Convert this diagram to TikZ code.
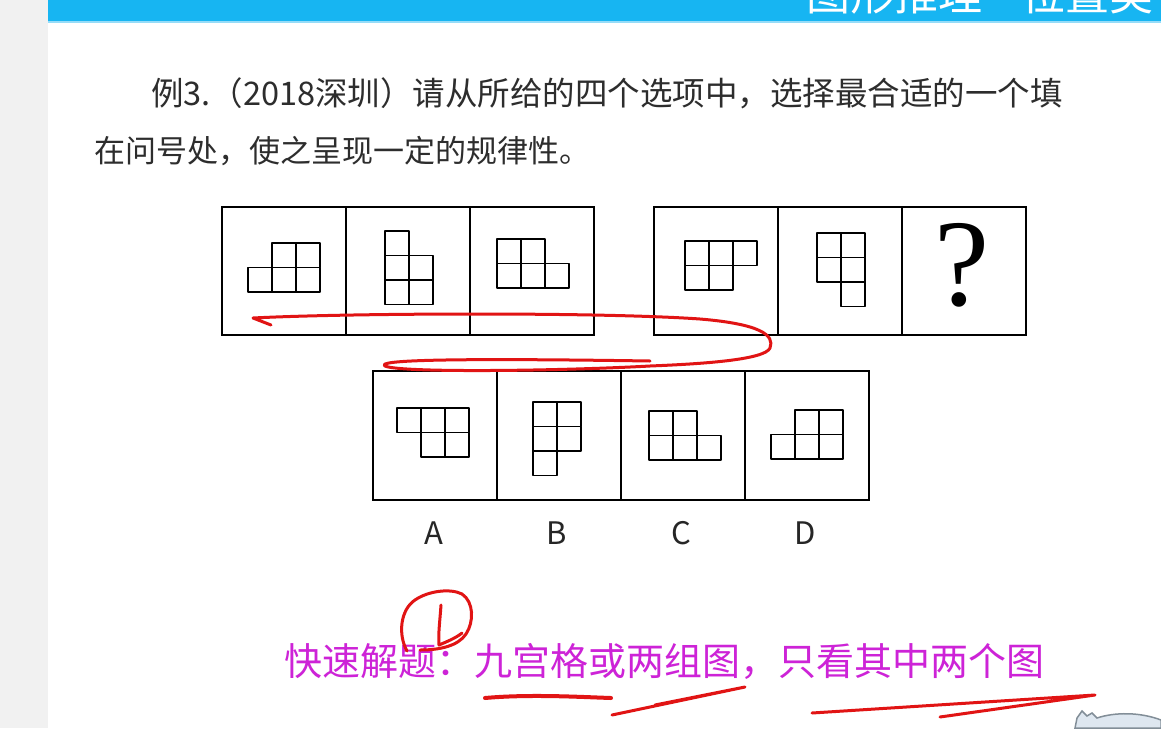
\documentclass[tikz,border=0pt]{standalone}
\usepackage{fontspec}
\newfontfamily\cjk{Noto Sans CJK SC}
\newfontfamily\qserif{Liberation Serif}
\definecolor{bannerblue}{RGB}{23,181,242}
\definecolor{bannerline}{RGB}{150,220,248}
\definecolor{stripgray}{RGB}{241,241,241}
\definecolor{textgray}{RGB}{45,45,45}
\definecolor{inkred}{RGB}{225,20,20}
\definecolor{magentatext}{RGB}{205,35,215}
\definecolor{catfill}{RGB}{222,231,240}
\definecolor{catline}{RGB}{130,142,152}
\newcommand\shapegrid[3]{%
  \foreach \c/\r in {#3} \draw[sq] ({#1+\c*24},{#2+\r*24.5}) rectangle ++(24,24.5);}
\begin{document}
\begin{tikzpicture}[x=1pt,y=-1pt,
  cellbox/.style={draw=black, line width=2pt, minimum width=124pt, minimum height=128pt, inner sep=0pt},
  sq/.style={draw=black, line width=1.8pt, line join=round},
  ink/.style={draw=inkred, line width=3pt, line cap=round, line join=round},
  qtext/.style={text=textgray, anchor=base west, inner sep=0pt},
  optlabel/.style={font=\cjk\fontsize{31}{31}\selectfont, text=black!85, inner sep=0pt},
]
\useasboundingbox (0,0) rectangle (1161,728);
\fill[white] (0,0) rectangle (1161,728);
\fill[stripgray] (0,0) rectangle (48,728);
\fill[bannerblue] (48,0) rectangle (1161,21);
\fill[bannerline] (48,21) rectangle (1161,23);
\begin{scope}
  \clip (48,0) rectangle (1161,21);
  \node[font=\cjk\fontsize{44}{44}\selectfont, text=white, anchor=base west, inner sep=0pt] (bannertitle) at (806,10) {图形推理—位置类};
\end{scope}

% question text
\node[qtext, font=\cjk\fontsize{32.5}{32.5}\selectfont] (line1) at (151,105) {例3.（2018深圳）请从所给的四个选项中，选择最合适的一个填};
\node[qtext, font=\cjk\fontsize{31}{31}\selectfont] (line2) at (94,162) {在问号处，使之呈现一定的规律性。};

% top cells
\node[cellbox] (q1) at (284,271) {};
\node[cellbox] (q2) at (408,271) {};
\node[cellbox] (q3) at (532,271) {};
\node[cellbox] (q4) at (716,271) {};
\node[cellbox] (q5) at (840,271) {};
\node[cellbox] (q6) at (964,271) {};
\node[inner sep=0pt, font=\qserif\fontsize{124}{124}\selectfont] (qmark) at (962,265) {?};

% bottom cells
\node[cellbox, minimum height=129pt] (oa) at (435,435.5) {};
\node[cellbox, minimum height=129pt] (ob) at (559,435.5) {};
\node[cellbox, minimum height=129pt] (oc) at (683,435.5) {};
\node[cellbox, minimum height=129pt] (od) at (807,435.5) {};

\node[optlabel] (la) at (434,533) {A};
\node[optlabel] (lb) at (557,533) {B};
\node[optlabel] (lc) at (681,533) {C};
\node[optlabel] (ld) at (805,533) {D};

% small figures
\shapegrid{248}{243}{1/0,2/0,0/1,1/1,2/1}
\shapegrid{385}{231}{0/0,0/1,1/1,0/2,1/2}
\shapegrid{497}{239}{0/0,1/0,0/1,1/1,2/1}
\shapegrid{685}{241}{0/0,1/0,2/0,0/1,1/1}
\shapegrid{817}{233}{0/0,1/0,0/1,1/1,1/2}
\shapegrid{397}{408}{0/0,1/0,2/0,1/1,2/1}
\shapegrid{533}{402}{0/0,1/0,0/1,1/1,0/2}
\shapegrid{649}{411}{0/0,1/0,0/1,1/1,2/1}
\shapegrid{771}{410}{1/0,2/0,0/1,1/1,2/1}

% red ink stroke through the figures
\draw[ink] (271,325) -- (253,318)
  .. controls (350,313) and (600,312) .. (700,319)
  .. controls (760,324) and (775,335) .. (770,348)
  .. controls (765,360) and (700,364) .. (650,366)
  .. controls (560,371) and (400,373) .. (385,366)
  .. controls (375,360) and (450,358) .. (650,361);

% tip text
\node[font=\cjk\fontsize{38}{38}\selectfont, text=magentatext, anchor=base west, inner sep=0pt] (tip) at (284,675) {快速解题：九宫格或两组图，只看其中两个图};

% circled 1
\draw[ink] (407,651) .. controls (398,635) and (400,610) .. (415,600)
  .. controls (428,591) and (450,588) .. (462,594)
  .. controls (474,602) and (474,622) .. (466,634)
  .. controls (458,646) and (440,650) .. (420,650);
\draw[ink] (441,605) .. controls (440,620) and (438,635) .. (439,645)
  .. controls (446,642) and (456,638) .. (462,633);

% underlines
\draw[ink, line width=4pt] (485,698) .. controls (530,694) and (580,697) .. (611,698);
\draw[ink] (612,715) -- (745,687) -- (655,705);
\draw[ink] (812,713) -- (1095,695) -- (940,717);

% corner mascot
\draw[catline, fill=catfill, line width=1.5pt] (1075,728) -- (1077,718) -- (1082,711) -- (1087,716) -- (1092,713) -- (1097,718)
  .. controls (1115,712) and (1140,712) .. (1161,720) -- (1161,728) -- cycle;
\end{tikzpicture}
\end{document}
